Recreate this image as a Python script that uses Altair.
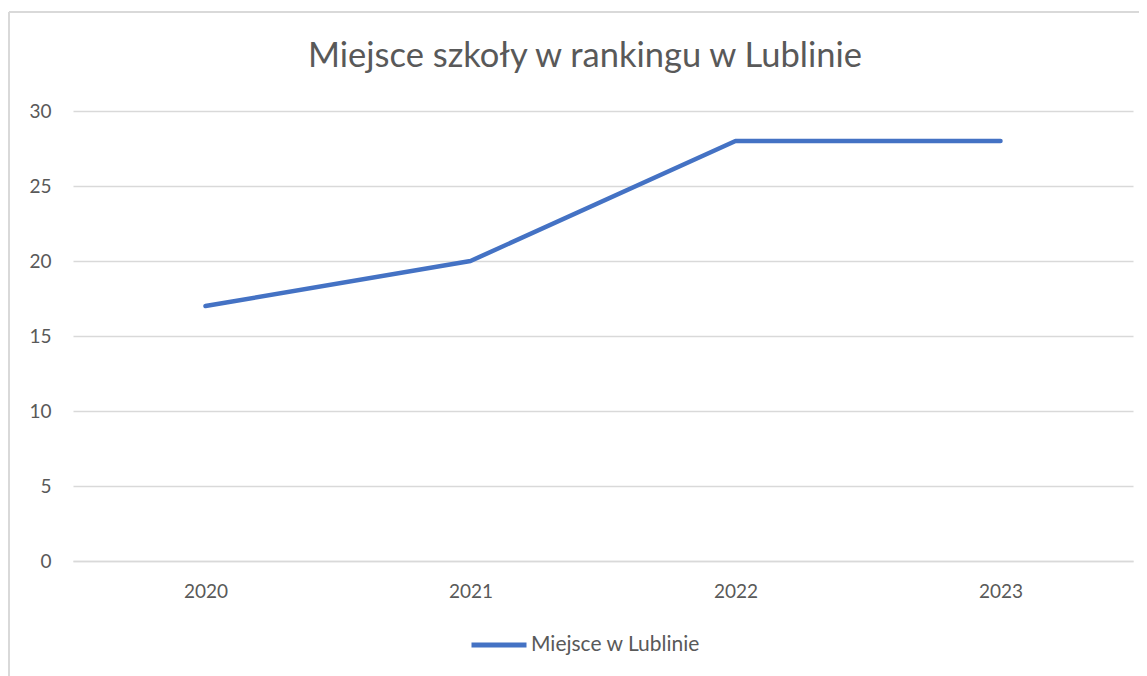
import altair as alt
import pandas as pd

years = ["2020", "2021", "2022", "2023"]
values = [17, 20, 28, 28]
series_name = "Miejsce w Lublinie"
y_ticks = [0, 5, 10, 15, 20, 25, 30]
title_text = "Miejsce szkoły w rankingu w Lublinie"

df = pd.DataFrame({"Rok": years, "Miejsce": values, "Seria": [series_name] * len(years)})
title_df = pd.DataFrame({"t": [title_text]})

FONT = "Lato"
GREY = "#595959"
GRID = "#d9d9d9"
LBL = 19

line = alt.Chart(df).mark_line(
    strokeWidth=4.5, strokeCap="round", strokeJoin="round"
).encode(
    x=alt.X("Rok:N", sort=years,
            scale=alt.Scale(type="point", padding=0.5),
            axis=alt.Axis(title=None, labelAngle=0, ticks=False, grid=False,
                          domainColor=GRID, domainWidth=1.5, labelPadding=21,
                          labelFont=FONT, labelFontSize=LBL, labelColor=GREY)),
    y=alt.Y("Miejsce:Q", scale=alt.Scale(domain=[0, 30], nice=False),
            axis=alt.Axis(title=None, values=y_ticks, ticks=False, domain=False,
                          gridColor=GRID, gridWidth=1.5, labelPadding=22,
                          labelFont=FONT, labelFontSize=LBL, labelColor=GREY)),
    color=alt.Color("Seria:N", scale=alt.Scale(range=["#4472C4"]),
                    legend=alt.Legend(title=None, orient="none", legendX=396, legendY=504,
                                      symbolType="stroke", symbolSize=3025,
                                      symbolStrokeWidth=5, labelOffset=2, labelLimit=400,
                                      labelFont=FONT, labelFontSize=21, labelColor=GREY)),
)

title = alt.Chart(title_df).mark_text(
    font=FONT, fontSize=34.5, color=GREY, align="center", baseline="middle"
).encode(text="t:N", x=alt.value(512), y=alt.value(-54))

border_left = alt.Chart(df).mark_rule(color=GRID, strokeWidth=1.5).encode(
    x=alt.value(-64), y=alt.value(-99), y2=alt.value(700))
border_top = alt.Chart(df).mark_rule(color=GRID, strokeWidth=1.5).encode(
    x=alt.value(-64), x2=alt.value(1200), y=alt.value(-99))

chart = alt.layer(border_left, border_top, title, line).properties(
    width=1060, height=450,
    autosize=alt.AutoSizeParams(type="none"),
    padding={"left": 65, "top": 103, "right": 6, "bottom": 115},
).configure_view(stroke=None)

chart.save("out.html", embed_options={"renderer": "svg", "actions": False})
